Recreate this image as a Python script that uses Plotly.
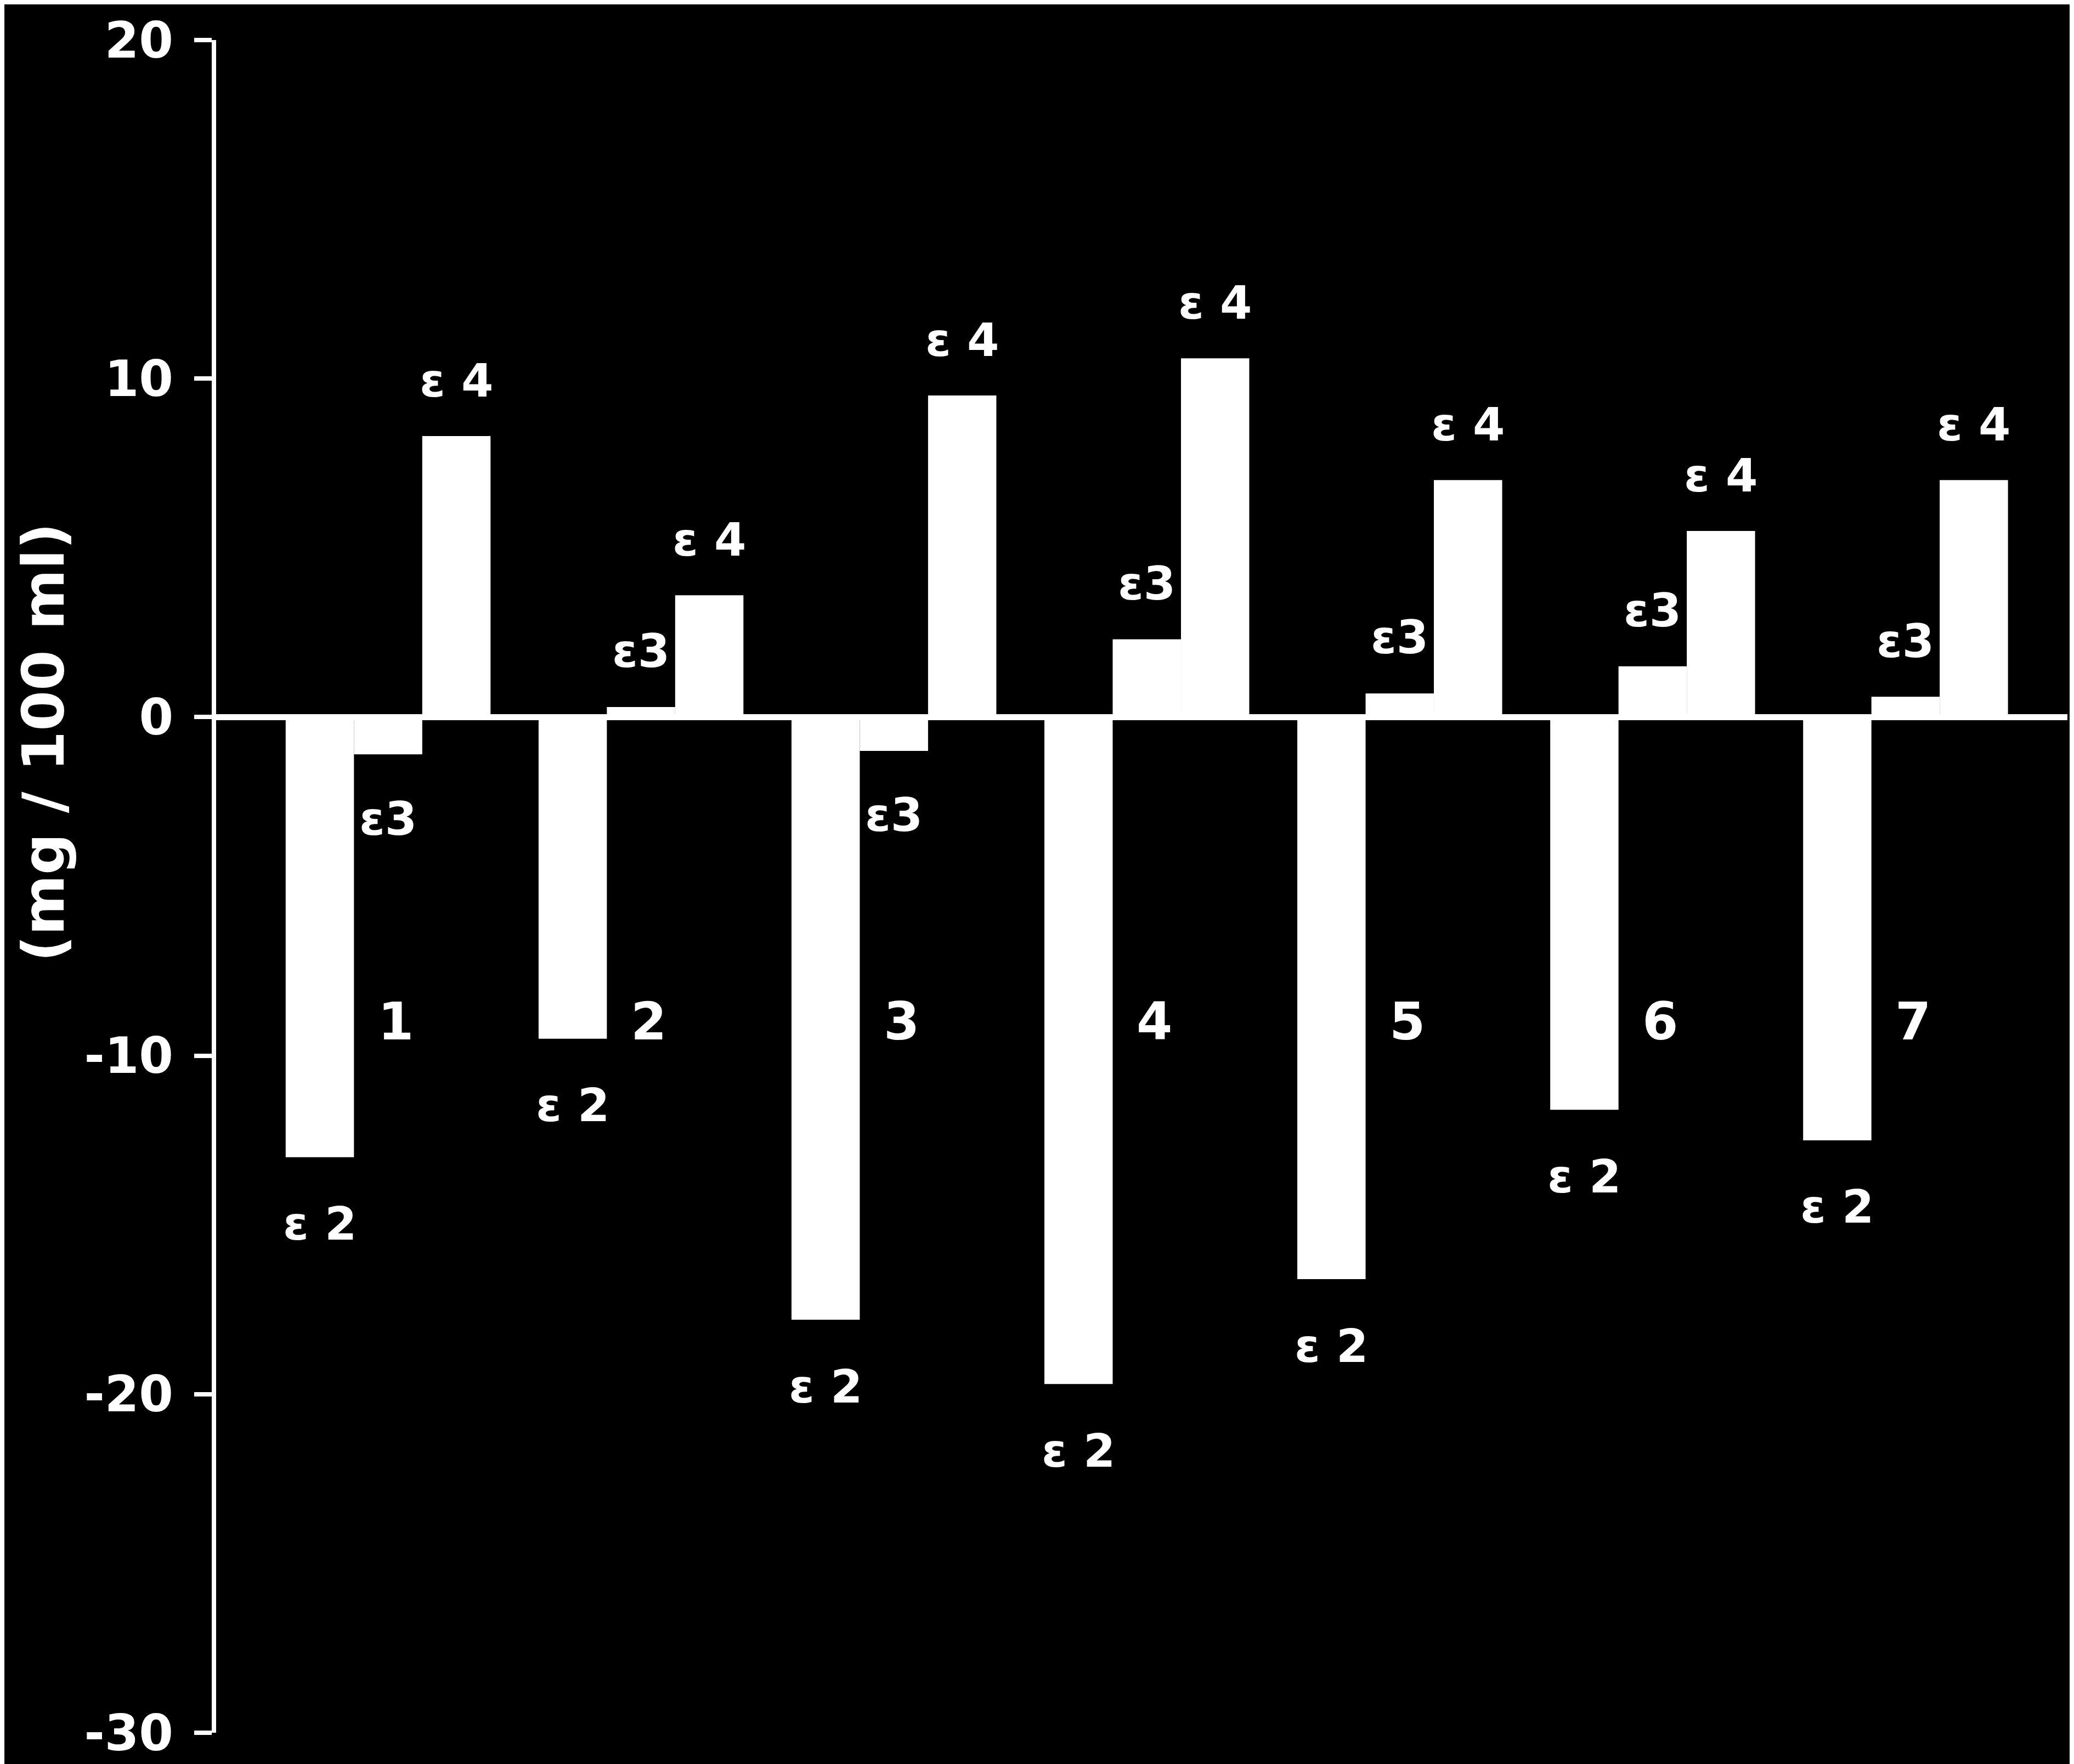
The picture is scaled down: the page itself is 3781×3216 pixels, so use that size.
import plotly.graph_objects as go

# change per group (mg / 100 ml)
groups = [1, 2, 3, 4, 5, 6, 7]
group_labels = ["1", "2", "3", "4", "5", "6", "7"]
e2_values = [-13.0, -9.5, -17.8, -19.7, -16.6, -11.6, -12.5]
e3_values = [-1.1, 0.3, -1.0, 2.3, 0.7, 1.5, 0.6]
e4_values = [8.3, 3.6, 9.5, 10.6, 7.0, 5.5, 7.0]
series_names = ["ε 2", "ε3", "ε 4"]

tick_vals = [20, 10, 0, -10, -20, -30]
tick_text = ["20", "10", "0", "-10", "-20", "-30"]

FONT = "DejaVu Sans"
bargap = 0.19
bar_w = (1 - bargap) / 3

fig = go.Figure()
for name, vals in zip(series_names, [e2_values, e3_values, e4_values]):
    fig.add_trace(go.Bar(x=groups, y=vals, name=name,
                         marker=dict(color="white", line=dict(width=0))))

annotations = []
lab_font = dict(family=FONT, size=84, color="white", weight="bold")
for g, v2, v3, v4 in zip(groups, e2_values, e3_values, e4_values):
    annotations.append(dict(x=g - bar_w, y=v2 - 1.97, text=series_names[0],
                            showarrow=False, font=lab_font))
    annotations.append(dict(x=g, y=v3 + (1.65 if v3 > 0 else -1.9), text=series_names[1],
                            showarrow=False, font=lab_font))
    annotations.append(dict(x=g + bar_w, y=v4 + 1.64, text=series_names[2],
                            showarrow=False, font=lab_font))
for g, lab in zip(groups, group_labels):
    annotations.append(dict(x=g + 0.03, y=-9.0, text=lab, showarrow=False,
                            font=dict(family=FONT, size=94, color="white", weight="bold")))

# y axis title
annotations.append(dict(xref="paper", yref="paper", x=-0.093, y=0.585,
                        text="(mg / 100 ml)", textangle=-90, showarrow=False,
                        xanchor="center", yanchor="middle",
                        font=dict(family=FONT, size=106, color="white", weight="bold")))

fig.update_layout(
    width=3781, height=3216,
    margin=dict(l=386, r=20, t=36, b=54),
    paper_bgcolor="black", plot_bgcolor="black",
    barmode="group", bargap=bargap, bargroupgap=0,
    showlegend=False,
    annotations=annotations,
    xaxis=dict(range=[0.32, 7.64], showticklabels=False, showline=False,
               showgrid=False, zeroline=False, ticks=""),
    yaxis=dict(range=[-30, 20], tickvals=tick_vals, ticktext=tick_text,
               showgrid=False, showline=True, linecolor="white", linewidth=8,
               ticks="outside", ticklen=32, tickwidth=8, tickcolor="white",
               ticklabelstandoff=20, ticklabeloverflow="allow",
               tickfont=dict(family=FONT, size=90, color="white", weight="bold"),
               zeroline=True, zerolinecolor="white", zerolinewidth=11),
)

fig.write_html("out.html")
